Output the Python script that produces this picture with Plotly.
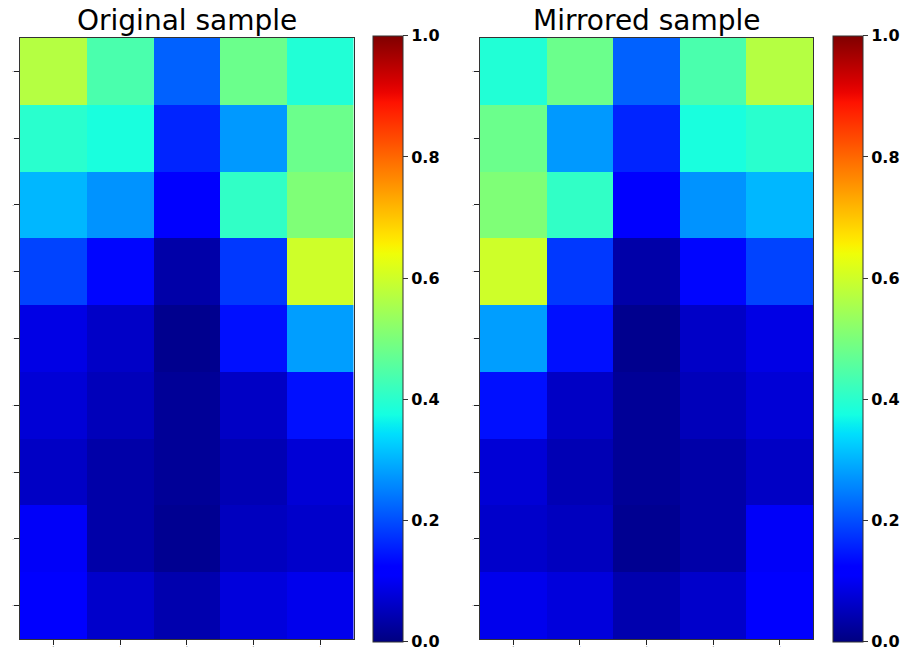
import plotly.graph_objects as go
import numpy as np

# Data (9 rows x 5 columns)
row_labels = [0, 1, 2, 3, 4, 5, 6, 7, 8]
col_labels = [0, 1, 2, 3, 4]
original = [
    [0.57, 0.44, 0.22, 0.48, 0.39],
    [0.40, 0.38, 0.16, 0.275, 0.48],
    [0.305, 0.27, 0.12, 0.41, 0.505],
    [0.19, 0.13, 0.035, 0.18, 0.60],
    [0.088, 0.062, 0.012, 0.14, 0.28],
    [0.075, 0.05, 0.02, 0.06, 0.14],
    [0.06, 0.035, 0.02, 0.045, 0.075],
    [0.105, 0.035, 0.015, 0.055, 0.065],
    [0.12, 0.065, 0.04, 0.08, 0.095],
]
mirrored = [row[::-1] for row in original]
cbar_ticks = [0.0, 0.2, 0.4, 0.6, 0.8, 1.0]

# matplotlib "jet" colormap as a plotly colorscale
_jet = {
    "r": [(0, 0), (0.35, 0), (0.66, 1), (0.89, 1), (1, 0.5)],
    "g": [(0, 0), (0.125, 0), (0.375, 1), (0.64, 1), (0.91, 0), (1, 0)],
    "b": [(0, 0.5), (0.11, 1), (0.34, 1), (0.65, 0), (1, 0)],
}
def _ch(seg, t):
    xs = [p[0] for p in seg]; ys = [p[1] for p in seg]
    return float(np.interp(t, xs, ys))
jet = []
for t in np.linspace(0, 1, 65):
    r, g, b = (_ch(_jet[k], t) for k in "rgb")
    jet.append([float(t), f"rgb({round(r*255)},{round(g*255)},{round(b*255)})"])

W, H = 904, 656
def px_x(x): return x / W
def px_y(y): return 1 - y / H

panels = [
    dict(z=original, title="Original sample", x0=20, x1=353.5, cb=372.7),
    dict(z=mirrored, title="Mirrored sample", x0=480, x1=813.3, cb=833.3),
]
top, bottom = 38, 639

fig = go.Figure()
annotations = []
for i, p in enumerate(panels):
    ax = "" if i == 0 else str(i + 1)
    fig.add_trace(go.Heatmap(
        z=p["z"], x=col_labels, y=row_labels,
        colorscale=jet, zmin=0, zmax=1,
        xaxis="x" + ax, yaxis="y" + ax,
        colorbar=dict(
            x=px_x(p["cb"]), xanchor="left", xpad=0, ypad=0,
            y=px_y((35.7 + 641.7) / 2), yanchor="middle",
            len=606, lenmode="pixels", thickness=30, thicknessmode="pixels",
            outlinewidth=1, outlinecolor="#333333",
            tickvals=cbar_ticks, ticktext=[f"{v:.1f}" for v in cbar_ticks],
            ticks="outside", ticklen=5, tickcolor="#333333",
            tickfont=dict(family="DejaVu Sans", size=16, color="black", weight="bold"),
        ),
        hoverinfo="skip",
    ))
    common = dict(showline=True, mirror=True, linecolor="#333333", linewidth=1,
                  showgrid=False, zeroline=False, ticks="outside", ticklen=5,
                  tickwidth=1, tickcolor="#222222",
                  tickfont=dict(size=2, color="#444444"))
    fig.layout["xaxis" + ax] = dict(domain=[px_x(p["x0"]), px_x(p["x1"])],
                                    anchor="y" + ax, tickvals=col_labels,
                                    range=[-0.5, 4.5], **common)
    fig.layout["yaxis" + ax] = dict(domain=[px_y(bottom), px_y(top)],
                                    anchor="x" + ax, tickvals=row_labels,
                                    range=[8.5, -0.5], **common)
    annotations.append(dict(
        text=p["title"], x=px_x((p["x0"] + p["x1"]) / 2), y=px_y(20),
        xref="paper", yref="paper", xanchor="center", yanchor="middle",
        showarrow=False, font=dict(family="DejaVu Sans", size=28, color="black"),
    ))

fig.update_layout(
    width=W, height=H, margin=dict(l=0, r=0, t=0, b=0),
    paper_bgcolor="white", plot_bgcolor="white",
    annotations=annotations, showlegend=False,
)
fig.write_html("out.html")
